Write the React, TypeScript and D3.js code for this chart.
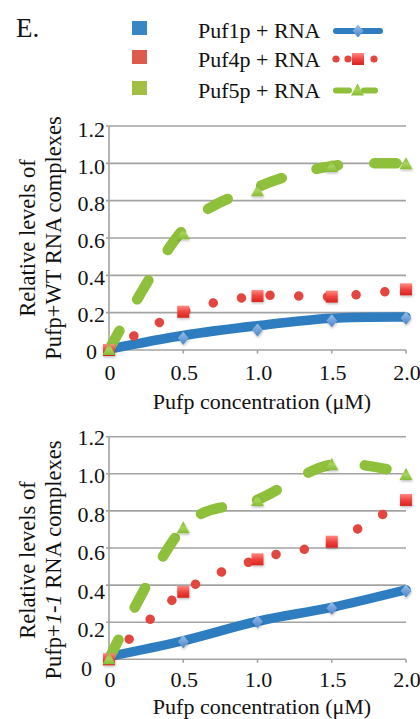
import React from "react";
import * as d3 from "d3";

// ---------- data ----------
const concentrations = [0, 0.5, 1.0, 1.5, 2.0];
const yTicks = [0, 0.2, 0.4, 0.6, 0.8, 1.0, 1.2];
const xTicks = [0, 0.5, 1.0, 1.5, 2.0];
const legendLabels = ["Puf1p + RNA", "Puf4p + RNA", "Puf5p + RNA"];

// Panel 1: Pufp + WT RNA
const wtPuf1Markers = [0, 0.063, 0.107, 0.157, 0.17];
const wtPuf1Line = [0.005, 0.078, 0.13, 0.17, 0.177];
const wtPuf4Markers = [0, 0.205, 0.289, 0.286, 0.325];
const wtPuf4Line = [0, 0.205, 0.289, 0.286, 0.325];
const wtPuf5Markers = [0, 0.62, 0.85, 0.98, 0.995];
const wtPuf5Line = [0, 0.645, 0.872, 0.985, 1.0];

// Panel 2: Pufp + 1-1 RNA
const mPuf1Markers = [0, 0.095, 0.203, 0.275, 0.368];
const mPuf1Line = [0.015, 0.1, 0.205, 0.28, 0.375];
const mPuf4Markers = [0, 0.364, 0.539, 0.634, 0.859];
const mPuf4Line = [0, 0.364, 0.539, 0.634, 0.859];
const mPuf5Markers = [0, 0.706, 0.853, 1.047, 0.993];
const mPuf5Line = [0, 0.71, 0.86, 1.05, 1.0];

const BLUE = "#2d7dc0";
const RED = "#e2463f";
const GREEN = "#8fc03c";
const GRID = "#a3a3a3";
const FONT = "Liberation Serif, Times New Roman, Tinos, Times, serif";

type PanelProps = {
  top: number;
  bottom: number;
  labelTop: number;
  labelBottom: number;
  xLabelBaseline: number;
  xTitleBaseline: number;
  yTitleCenter: number;
  zeroLabelRight: number;
  b: { m: number[]; l: number[] };
  r: { m: number[]; l: number[] };
  g: { m: number[]; l: number[] };
  line2: React.ReactNode;
};

const xScale = d3.scaleLinear().domain([0, 2]).range([109, 406]);

function Diamond({ x, y }: { x: number; y: number }) {
  return (
    <path
      d={`M${x},${y - 6.5}L${x + 5.5},${y}L${x},${y + 6.5}L${x - 5.5},${y}Z`}
      fill="url(#gBlue)"
    />
  );
}
function Square({ x, y }: { x: number; y: number }) {
  return <rect x={x - 6} y={y - 6} width={12} height={12} fill="url(#gRed)" />;
}
function Triangle({ x, y }: { x: number; y: number }) {
  return (
    <path
      d={`M${x},${y - 7}L${x + 6.5},${y + 5}L${x - 6.5},${y + 5}Z`}
      fill="url(#gGreen)"
    />
  );
}

function Panel(p: PanelProps) {
  const y = d3.scaleLinear().domain([0, 1.2]).range([p.bottom, p.top]);
  const yLab = d3.scaleLinear().domain([0, 1.2]).range([p.labelBottom, p.labelTop]);
  const line = (vals: number[]) =>
    d3
      .line<number>()
      .x((_, i) => xScale(concentrations[i]))
      .y((v) => y(v))
      .curve(d3.curveCardinal.tension(0))(vals) || "";
  const x0 = xScale(0);
  const x1 = xScale(2);
  return (
    <g>
      {yTicks
        .filter((t) => t > 0)
        .map((t) => (
          <line key={t} x1={x0 - 3} x2={x1} y1={y(t)} y2={y(t)} stroke={GRID} strokeWidth={1.6} />
        ))}
      <line x1={x0} x2={x0} y1={y(1.2)} y2={y(0) + 3} stroke={GRID} strokeWidth={1.6} />
      <line x1={x0 - 3} x2={x1} y1={y(0)} y2={y(0)} stroke={GRID} strokeWidth={1.6} />
      {xTicks.map((t) => (
        <line key={t} x1={xScale(t)} x2={xScale(t)} y1={y(0)} y2={y(0) + 3.5} stroke={GRID} strokeWidth={1.6} />
      ))}
      {yTicks.map((t) => (
        <text
          key={t}
          x={t === 0 ? p.zeroLabelRight : 105}
          y={yLab(t) + 7.5}
          textAnchor="end"
          fontSize={22}
          fontFamily={FONT}
          fill="#111"
        >
          {t === 0 ? "0" : d3.format(".1f")(t)}
        </text>
      ))}
      {xTicks.map((t) => (
        <text
          key={t}
          x={xScale(t) + 1}
          y={p.xLabelBaseline}
          textAnchor="middle"
          fontSize={22}
          fontFamily={FONT}
          fill="#111"
        >
          {t === 0 ? "0" : d3.format(".1f")(t)}
        </text>
      ))}
      <text x={262} y={p.xTitleBaseline} textAnchor="middle" fontSize={22} fontFamily={FONT} fill="#111">
        Pufp concentration (μM)
      </text>
      <text
        transform={`translate(35,${p.yTitleCenter}) rotate(-90)`}
        textAnchor="middle"
        fontSize={22.5}
        fontFamily={FONT}
        fill="#111"
      >
        Relative levels of
      </text>
      <text
        transform={`translate(61,${p.yTitleCenter}) rotate(-90)`}
        textAnchor="middle"
        fontSize={22.5}
        fontFamily={FONT}
        fill="#111"
      >
        {p.line2}
      </text>

      {/* lines */}
      <path d={line(p.b.l)} fill="none" stroke={BLUE} strokeWidth={9.5} strokeLinecap="round" />
      <path
        d={line(p.r.l)}
        fill="none"
        stroke={RED}
        strokeWidth={9.5}
        strokeLinecap="round"
        strokeDasharray="0.01 28.7"
      />
      <path
        d={line(p.g.l)}
        fill="none"
        stroke={GREEN}
        strokeWidth={10.5}
        strokeLinecap="round"
        strokeDasharray="22 36"
      />
      {/* markers */}
      <g filter="url(#shadow)">
        {p.b.m.map((v, i) => (
          <Diamond key={"b" + i} x={xScale(concentrations[i])} y={y(v)} />
        ))}
        {p.r.m.map((v, i) => (
          <Square key={"r" + i} x={xScale(concentrations[i])} y={y(v)} />
        ))}
        {p.g.m.map((v, i) => (
          <Triangle key={"g" + i} x={xScale(concentrations[i])} y={y(v)} />
        ))}
      </g>
    </g>
  );
}

export default function App() {
  const legendColors = ["#3a86c5", "#de5a4d", "#a2be45"];
  const legendRows = [30.5, 59.5, 90.5];
  return (
    <svg
      width={420}
      height={719}
      style={{ position: "absolute", left: 0, top: 0, background: "#fff" }}
    >
      <defs>
        <linearGradient id="gBlue" x1="0" y1="0" x2="0" y2="1">
          <stop offset="0" stopColor="#9cc0ea" />
          <stop offset="1" stopColor="#4b84c7" />
        </linearGradient>
        <linearGradient id="gRed" x1="0" y1="0" x2="0" y2="1">
          <stop offset="0" stopColor="#ff8a82" />
          <stop offset="0.5" stopColor="#f0443e" />
          <stop offset="1" stopColor="#d9231f" />
        </linearGradient>
        <linearGradient id="gGreen" x1="0" y1="0" x2="0" y2="1">
          <stop offset="0" stopColor="#7fb52e" />
          <stop offset="0.5" stopColor="#a6d458" />
          <stop offset="1" stopColor="#86bb35" />
        </linearGradient>
        <filter id="shadow" x="-50%" y="-50%" width="200%" height="200%">
          <feDropShadow dx="0.5" dy="1.5" stdDeviation="1" floodColor="#000" floodOpacity="0.25" />
        </filter>
      </defs>

      {/* header / legend */}
      <text x={16} y={37} fontSize={27} fontFamily={FONT} fill="#111">
        E.
      </text>
      {legendLabels.map((lab, i) => (
        <g key={lab}>
          <rect x={132} y={legendRows[i] - 9.5} width={15} height={14} fill={legendColors[i]} />
          <text x={198} y={legendRows[i] + 7} fontSize={22} fontFamily={FONT} fill="#111">
            {lab}
          </text>
        </g>
      ))}
      {/* legend samples */}
      <line x1={336} x2={380} y1={legendRows[0] + 0.5} y2={legendRows[0] + 0.5} stroke={BLUE} strokeWidth={6} strokeLinecap="round" />
      <Diamond x={358} y={legendRows[0] + 0.5} />
      <g>
        {[336, 348, 374].map((cx) => (
          <circle key={cx} cx={cx} cy={legendRows[1] - 0.5} r={3.6} fill={RED} />
        ))}
        <Square x={358} y={legendRows[1] - 0.5} />
      </g>
      <line x1={336} x2={349} y1={legendRows[2]} y2={legendRows[2]} stroke={GREEN} strokeWidth={6} strokeLinecap="round" />
      <line x1={364} x2={375} y1={legendRows[2]} y2={legendRows[2]} stroke={GREEN} strokeWidth={6} strokeLinecap="round" />
      <Triangle x={357.5} y={legendRows[2]} />

      <Panel
        top={126}
        bottom={350}
        labelTop={129}
        labelBottom={351}
        xLabelBaseline={380}
        xTitleBaseline={409}
        yTitleCenter={238}
        zeroLabelRight={97}
        b={{ m: wtPuf1Markers, l: wtPuf1Line }}
        r={{ m: wtPuf4Markers, l: wtPuf4Line }}
        g={{ m: wtPuf5Markers, l: wtPuf5Line }}
        line2={<tspan>Pufp+WT RNA complexes</tspan>}
      />
      <Panel
        top={436.7}
        bottom={659.3}
        labelTop={437}
        labelBottom={668}
        xLabelBaseline={687}
        xTitleBaseline={714}
        yTitleCenter={560}
        zeroLabelRight={92}
        b={{ m: mPuf1Markers, l: mPuf1Line }}
        r={{ m: mPuf4Markers, l: mPuf4Line }}
        g={{ m: mPuf5Markers, l: mPuf5Line }}
        line2={
          <>
            <tspan>Pufp+</tspan>
            <tspan fontStyle="italic">1-1</tspan>
            <tspan> RNA complexes</tspan>
          </>
        }
      />
    </svg>
  );
}
